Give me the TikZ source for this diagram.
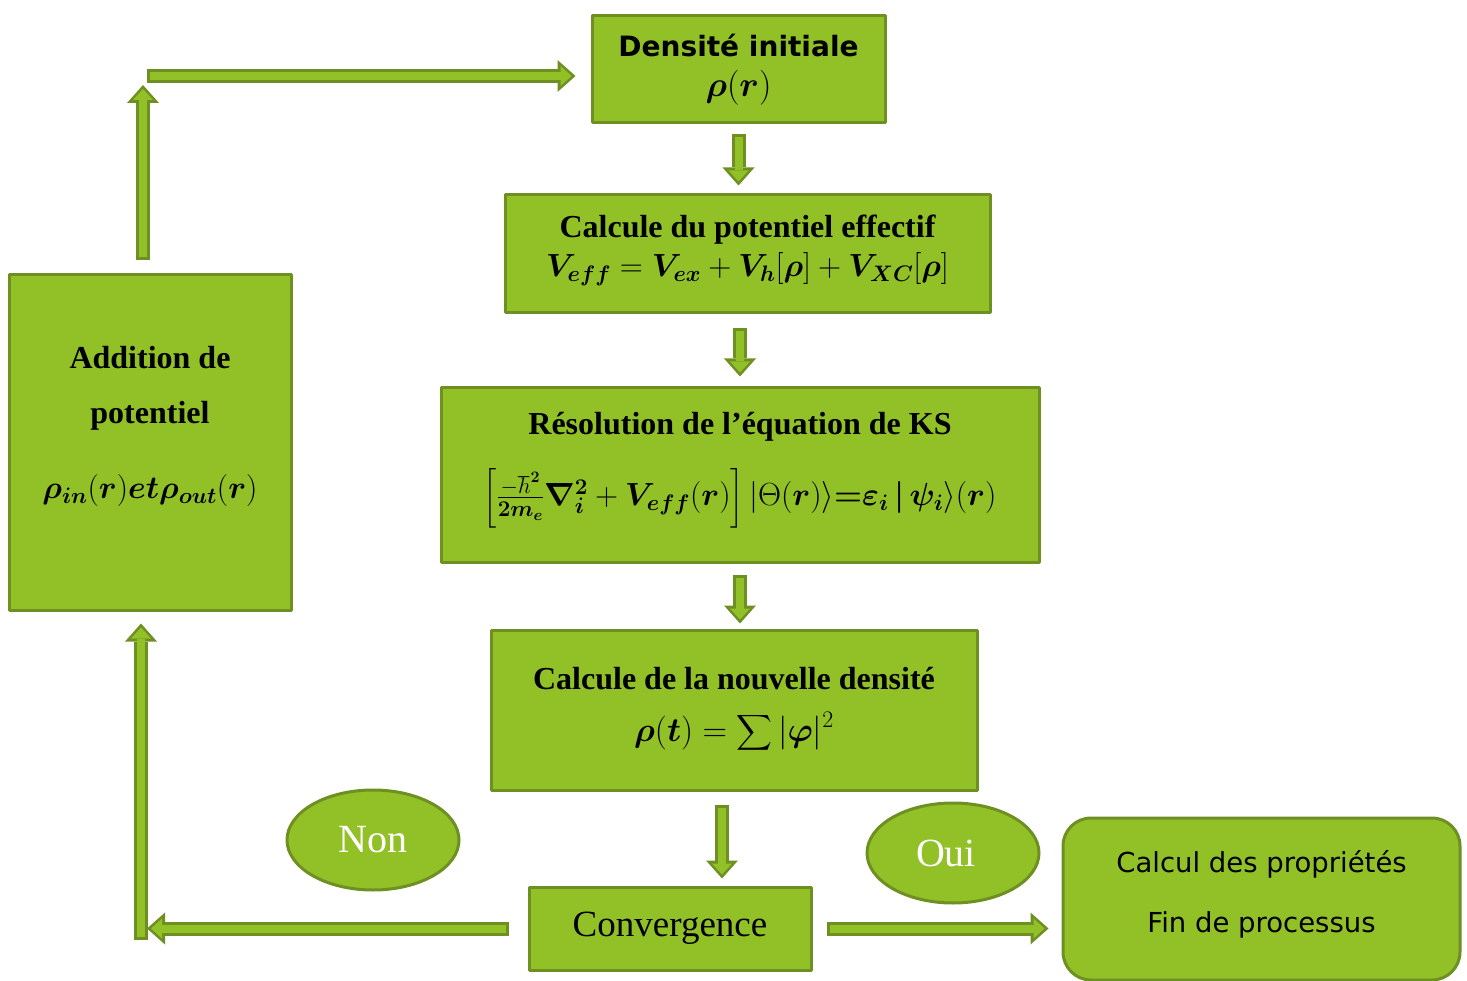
\documentclass[tikz,border=0pt]{standalone}
\usepackage{fix-cm}
\usepackage{amsmath,bm}
\usepackage{fontspec}
\setmainfont{Liberation Serif}
\newfontfamily\verdana{DejaVu Sans}
\usetikzlibrary{arrows.meta,shapes.geometric}
\definecolor{leaf}{RGB}{145,193,39}
\definecolor{leafdark}{RGB}{110,144,34}
% block arrow: dark outline first, light core on top
\newcommand{\flowarrow}[4]{%
	\draw[flow outer,shorten <=#3pt,shorten >=#4pt] (#1)--(#2);
	\draw[flow inner,shorten <=#3pt+3pt,shorten >=#4pt+4pt] (#1)--(#2);}
\begin{document}
\begin{tikzpicture}[x=1pt,y=-1pt,line join=round,
	box/.style={draw=leafdark,fill=leaf,line width=3pt,inner sep=0pt,align=center},
	bubble/.style={ellipse,draw=leafdark,fill=leaf,line width=3pt,inner sep=0pt,
		minimum width=172pt,minimum height=100pt,text=white,font=\fontsize{40}{44}\selectfont},
	flow outer/.style={draw=leafdark,line width=14pt,-{Triangle[length=18pt,width=32pt,line width=0pt]}},
	flow inner/.style={draw=leaf,line width=8pt,-{Triangle[length=11pt,width=20pt,line width=0pt]}}]
	\useasboundingbox (0,0) rectangle (1467,981);
	\node[box,minimum width=293pt,minimum height=107pt,font=\fontsize{28}{40}\selectfont]
		(init) at (738.5,69.5) {{\verdana\bfseries Densité initiale}\\
		{\fontsize{35}{40}\selectfont$\bm{\rho}(\bm{r})$}};
	\node[box,minimum width=485pt,minimum height=118pt,text depth=16pt,
		font=\fontsize{32}{39}\selectfont\bfseries]
		(veff) at (747.5,254) {Calcule du potentiel effectif\\
		$\bm{V_{eff}}=\bm{V_{ex}}+\bm{V_h}[\bm{\rho}]+\bm{V_{XC}}[\bm{\rho}]$};
	\node[box,minimum width=598pt,minimum height=174pt,text depth=32pt,
		font=\fontsize{32}{39}\selectfont\bfseries]
		(ks) at (740,475) {Résolution de l’équation de KS\\[26pt]
		$\left[\frac{-\hbar^{\bm{2}}}{\bm{2m_e}}\bm{\nabla_i^2}+\bm{V_{eff}}(\bm{r})\right]
		|\Theta(\bm{r})\rangle{\bm{=}}\bm{\varepsilon_i}\,\bm{|}\,\bm{\psi_i}\rangle(\bm{r})$};
	\node[box,minimum width=486pt,minimum height=160pt,font=\fontsize{32}{39}\selectfont\bfseries]
		(dens) at (734,710) {Calcule de la nouvelle densité\\[13pt]
		{\fontsize{34}{40}\selectfont$\bm{\rho}(\bm{t})=\displaystyle\sum|\bm{\varphi}|^2$}};
	\node[box,minimum width=282pt,minimum height=83pt,font=\fontsize{37}{40}\selectfont]
		(conv) at (670,928.5) {Convergence};
	\node[box,rounded corners=28pt,minimum width=397pt,minimum height=162pt,text depth=14.5pt,
		font=\verdana\fontsize{27.5}{60}\selectfont]
		(props) at (1261.5,899) {Calcul des propriétés\\Fin de processus};
	\node[box,minimum width=282pt,minimum height=335pt,text depth=40pt,
		font=\fontsize{32}{55}\selectfont\bfseries]
		(add) at (150,442.5) {Addition de\\potentiel\\[20pt]
		$\bm{\rho_{in}}(\bm{r})\bm{et}\bm{\rho_{out}}(\bm{r})$};
	\node[bubble] (non) at (373,840) {Non};
	\node[bubble] (oui) at (953,853) {\kern-14pt Oui};
	\coordinate (topcorner) at (143,76);
	\coordinate (lowcorner) at (141,940);
	\coordinate (mid) at (722,790);
	% main loop
	\flowarrow{init.south}{init.south |- veff.north}{10}{8}
	\flowarrow{ks.north |- veff.south}{ks.north}{14}{10}
	\flowarrow{ks.south}{ks.south |- dens.north}{11}{5}
	\flowarrow{mid}{mid |- conv.north}{15}{7}
	\flowarrow{conv.east}{conv.east -| props.west}{14}{13}
	\flowarrow{conv.west}{[xshift=6pt]lowcorner |- conv.west}{19}{0}
	\flowarrow{lowcorner}{lowcorner |- add.south}{0}{12}
	\flowarrow{topcorner |- add.north}{topcorner}{13}{9}
	\flowarrow{topcorner}{topcorner -| init.west}{4}{15}
\end{tikzpicture}
\end{document}
